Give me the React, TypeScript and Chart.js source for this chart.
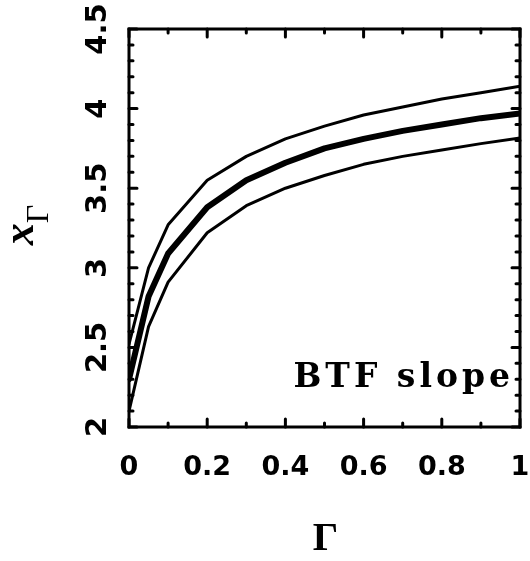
import { useEffect, useRef } from "react";
import { Chart, registerables } from "chart.js";

Chart.register(...registerables);

// ---- data ----
const gammaValues = [0, 0.05, 0.1, 0.2, 0.3, 0.4, 0.5, 0.6, 0.7, 0.8, 0.9, 1.0];
const upperValues = [2.52, 3.0, 3.27, 3.55, 3.7, 3.81, 3.89, 3.96, 4.01, 4.06, 4.1, 4.14];
const middleValues = [2.3, 2.82, 3.09, 3.38, 3.55, 3.66, 3.75, 3.81, 3.86, 3.9, 3.94, 3.97];
const lowerValues = [2.1, 2.63, 2.91, 3.22, 3.39, 3.5, 3.58, 3.65, 3.7, 3.74, 3.78, 3.815];

const xMajorTicks = [0, 0.2, 0.4, 0.6, 0.8, 1];
const xTickLabels = ["0", "0.2", "0.4", "0.6", "0.8", "1"];
const xMinorTicks = [0.1, 0.3, 0.5, 0.7, 0.9];
const yMajorTicks = [2, 2.5, 3, 3.5, 4, 4.5];
const yTickLabels = ["2", "2.5", "3", "3.5", "4", "4.5"];
const yMinorTicks = [2.1, 2.2, 2.3, 2.4, 2.6, 2.7, 2.8, 2.9, 3.1, 3.2, 3.3, 3.4, 3.6, 3.7, 3.8, 3.9, 4.1, 4.2, 4.3, 4.4];

const xTitle = "Γ";
const yTitleMain = "x";
const yTitleSub = "Γ";
const annotation = "BTF slope";

const framePlugin = {
  id: "framePlugin",
  afterDraw(chart: any) {
    const { ctx, chartArea } = chart;
    const xs = chart.scales.x;
    const ys = chart.scales.y;
    const { left, right, top, bottom } = chartArea;
    ctx.save();
    ctx.strokeStyle = "#000";
    ctx.fillStyle = "#000";
    ctx.lineCap = "round";

    // frame
    ctx.lineWidth = 3;
    ctx.lineJoin = "miter";
    ctx.strokeRect(left, top, right - left, bottom - top);

    // ticks
    const majorLen = 8;
    const minorLen = 4;
    ctx.lineWidth = 3;
    const drawX = (v: number, len: number) => {
      const px = xs.getPixelForValue(v);
      ctx.beginPath();
      ctx.moveTo(px, bottom);
      ctx.lineTo(px, bottom - len);
      ctx.moveTo(px, top);
      ctx.lineTo(px, top + len);
      ctx.stroke();
    };
    const drawY = (v: number, len: number) => {
      const py = ys.getPixelForValue(v);
      ctx.beginPath();
      ctx.moveTo(left, py);
      ctx.lineTo(left + len, py);
      ctx.moveTo(right, py);
      ctx.lineTo(right - len, py);
      ctx.stroke();
    };
    xMajorTicks.forEach((v) => drawX(v, majorLen));
    xMinorTicks.forEach((v) => drawX(v, minorLen));
    yMajorTicks.forEach((v) => drawY(v, majorLen));
    yMinorTicks.forEach((v) => drawY(v, minorLen));

    // x tick labels
    ctx.font = "bold 27px 'DejaVu Sans'";
    ctx.textAlign = "center";
    ctx.textBaseline = "alphabetic";
    xMajorTicks.forEach((v, i) => {
      ctx.fillText(xTickLabels[i], xs.getPixelForValue(v), 475);
    });

    // y tick labels (rotated)
    ctx.font = "bold 29px 'DejaVu Sans'";
    yMajorTicks.forEach((v, i) => {
      const py = ys.getPixelForValue(v);
      ctx.save();
      ctx.translate(106, py);
      ctx.rotate(-Math.PI / 2);
      ctx.textAlign = "center";
      ctx.textBaseline = "alphabetic";
      ctx.fillText(yTickLabels[i], 0, 0);
      ctx.restore();
    });

    // x title
    ctx.font = "bold 40px 'Liberation Serif'";
    ctx.textAlign = "center";
    ctx.fillText(xTitle, (left + right) / 2 + 1, 550);

    // y title rotated: italic x with subscript Gamma
    ctx.save();
    ctx.translate(33, (top + bottom) / 2 - 3);
    ctx.rotate(-Math.PI / 2);
    ctx.textAlign = "left";
    const mainFont = "bold italic 44px 'Liberation Serif'";
    const subFont = "32px 'Liberation Serif'";
    ctx.font = mainFont;
    const w1 = ctx.measureText(yTitleMain).width;
    ctx.font = subFont;
    const w2 = ctx.measureText(yTitleSub).width;
    const start = -(w1 + w2) / 2;
    ctx.font = mainFont;
    ctx.fillText(yTitleMain, start, 0);
    ctx.font = subFont;
    ctx.fillText(yTitleSub, start + w1, 15);
    ctx.restore();

    // annotation
    ctx.font = "bold 33px 'DejaVu Serif'";
    (ctx as any).letterSpacing = "4px";
    ctx.textAlign = "right";
    ctx.fillText(annotation, 514, 387);
    (ctx as any).letterSpacing = "0px";

    ctx.restore();
  },
};

export default function App() {
  const ref = useRef<HTMLCanvasElement>(null);
  useEffect(() => {
    if (!ref.current) return;
    const mk = (vals: number[], w: number) => ({
      data: gammaValues.map((g, i) => ({ x: g, y: vals[i] })),
      borderColor: "#000",
      borderWidth: w,
      pointRadius: 0,
      tension: 0,
      fill: false,
      borderJoinStyle: "round" as const,
      borderCapStyle: "round" as const,
    });
    const chart = new Chart(ref.current, {
      type: "line",
      data: {
        datasets: [mk(upperValues, 3), mk(middleValues, 6), mk(lowerValues, 3)],
      },
      options: {
        responsive: false,
        animation: false,
        layout: { padding: { left: 129, top: 29, right: 10, bottom: 134 } },
        plugins: { legend: { display: false }, tooltip: { enabled: false } },
        scales: {
          x: { type: "linear", min: 0, max: 1, display: false },
          y: { type: "linear", min: 2, max: 4.5, display: false },
        },
      },
      plugins: [framePlugin],
    });
    return () => chart.destroy();
  }, []);
  return (
    <div style={{ position: "absolute", left: 0, top: 0, width: 530, height: 561, background: "#fff" }}>
      <canvas ref={ref} width={530} height={561} />
    </div>
  );
}
